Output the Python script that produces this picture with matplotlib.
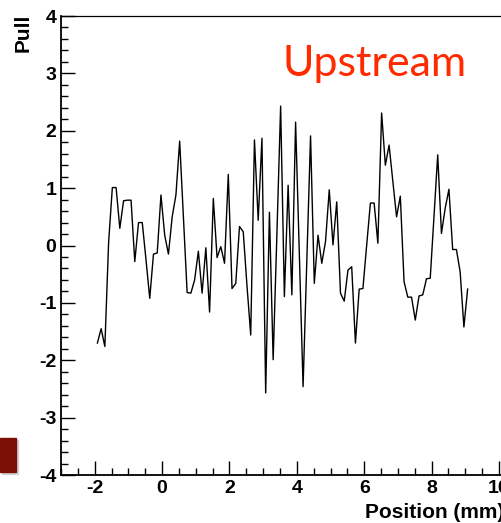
import matplotlib as ml
ml.use("Agg")
import matplotlib.pyplot as plt
from matplotlib.patches import Rectangle
from matplotlib.ticker import MultipleLocator
import numpy

ml.rcParams.update({
    'font.family': 'Liberation Sans',
    'font.weight': 'bold',
    'axes.unicode_minus': False,
})

# strip scan: first / last strip centre in mm, pull per strip
FIRST_POSITION = -1.92
LAST_POSITION = 9.07
pull = [
    -1.70, -1.45, -1.76, 0.05, 1.01, 1.01, 0.30, 0.78, 0.79, 0.79,
    -0.28, 0.40, 0.40, -0.25, -0.92, -0.15, -0.13, 0.88, 0.18, -0.15,
    0.50, 0.88, 1.82, 0.50, -0.82, -0.83, -0.60, -0.10, -0.83, -0.04,
    -1.16, 0.82, -0.21, -0.02, -0.31, 1.24, -0.75, -0.66, 0.33, 0.24,
    -0.70, -1.56, 1.84, 0.44, 1.87, -2.57, 0.58, -1.99, 0.20, 2.43,
    -0.89, 1.05, -0.86, 2.15, -0.15, -2.46, -0.27, 1.91, -0.66, 0.18,
    -0.31, 0.07, 0.97, 0.01, 0.76, -0.83, -0.97, -0.43, -0.37, -1.70,
    -0.76, -0.75, 0.00, 0.74, 0.74, 0.04, 2.31, 1.40, 1.75, 1.12,
    0.50, 0.86, -0.63, -0.90, -0.90, -1.30, -0.88, -0.86, -0.58, -0.57,
    0.50, 1.58, 0.21, 0.65, 0.98, -0.07, -0.07, -0.46, -1.42, -0.76,
]
position = numpy.linspace(FIRST_POSITION, LAST_POSITION, len(pull))

W, H = 501, 523
fig = plt.figure(figsize=(W / 100, H / 100), dpi=100)

# frame runs a little past the right edge of the canvas
x_min, x_max = -3.0, 10.2
left, right, bottom, top = 61, 505.7, 475, 16
ax = fig.add_axes([left / W, 1 - bottom / H, (right - left) / W, (bottom - top) / H])

ax.plot(position, pull, color='black', linewidth=1.0)

ax.set_xlim(x_min, x_max)
ax.set_ylim(-4, 4)
ax.xaxis.set_major_locator(MultipleLocator(2))
ax.xaxis.set_minor_locator(MultipleLocator(0.5))
ax.yaxis.set_major_locator(MultipleLocator(1))
ax.yaxis.set_minor_locator(MultipleLocator(0.2))
ax.tick_params(which='both', direction='in', top=False, right=False,
               width=1.0, labelsize=14)
ax.tick_params(which='major', length=10, pad=3.5)
ax.tick_params(which='minor', length=5)
for label in ax.get_xticklabels() + ax.get_yticklabels():
    label.set_fontweight('bold')

ax.spines['left'].set_linewidth(1.3)
ax.spines['bottom'].set_linewidth(1.3)
ax.spines['top'].set_linewidth(0.9)
ax.spines['right'].set_linewidth(0.9)

fig.text(23.5 / W, 1 - 14 / H, 'Pull', rotation=90, ha='center', va='top',
         fontsize=15, fontweight='bold')
fig.text(365 / W, 1 - 518 / H, 'Position (mm)', ha='left', va='baseline',
         fontsize=15, fontweight='bold')

fig.text(282 / W, 1 - 76 / H, 'Upstream', ha='left', va='baseline',
         fontsize=31, fontweight='normal', family='Lato', color='#ff2a00')

# slide marker in the lower left corner
fig.patches.append(Rectangle((2 / W, 1 - 474 / H), 16 / W, 34 / H,
                             transform=fig.transFigure, color='#b8b8b8',
                             alpha=0.5, zorder=0))
fig.patches.append(Rectangle((0, 1 - 472 / H), 16 / W, 34 / H,
                             transform=fig.transFigure, color='#7e0f08',
                             zorder=1))

fig.savefig('out.png', dpi=100)
